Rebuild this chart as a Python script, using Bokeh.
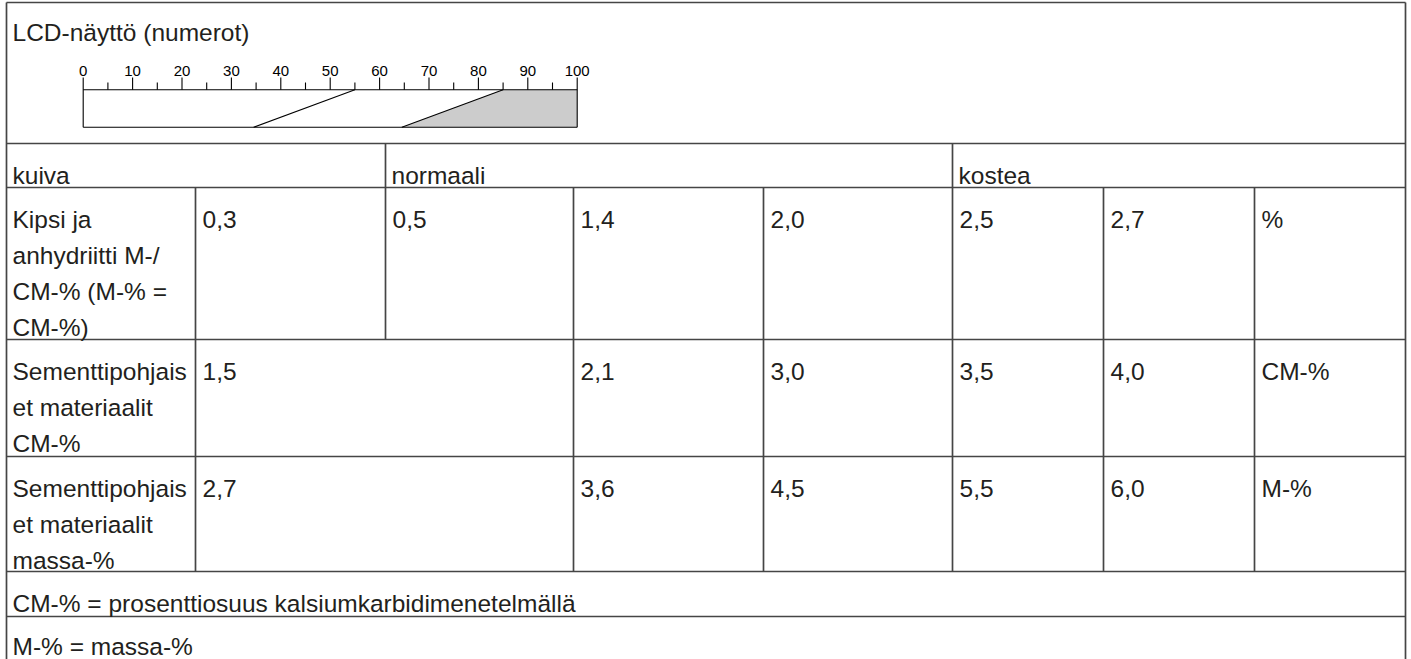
from bokeh.plotting import figure
from bokeh.models import Range1d
from bokeh.core.properties import value
from bokeh.embed import file_html
from bokeh.resources import INLINE

# ---------------- data ----------------
lcd_title = "LCD-näyttö (numerot)"
lcd_major_ticks = [0, 10, 20, 30, 40, 50, 60, 70, 80, 90, 100]
lcd_minor_ticks = [5, 15, 25, 35, 45, 55, 65, 75, 85, 95]
lcd_tick_labels = ["0", "10", "20", "30", "40", "50", "60", "70", "80", "90", "100"]
dry_limit_top = 55
dry_limit_bottom = 34.5
wet_limit_top = 85
wet_limit_bottom = 64.5

zones = ["kuiva", "normaali", "kostea"]
zone_first_col = [0, 2, 5]

material_labels = [
    ["Kipsi ja", "anhydriitti M-/", "CM-% (M-% =", "CM-%)"],
    ["Sementtipohjais", "et materiaalit", "CM-%"],
    ["Sementtipohjais", "et materiaalit", "massa-%"],
]
gypsum_values = ["0,3", "0,5", "1,4", "2,0", "2,5", "2,7"]
gypsum_cols = [1, 2, 3, 4, 5, 6]
cement_cm_values = ["1,5", "2,1", "3,0", "3,5", "4,0"]
cement_m_values = ["2,7", "3,6", "4,5", "5,5", "6,0"]
cement_cols = [1, 3, 4, 5, 6]
units = ["%", "CM-%", "M-%"]
footnotes = ["CM-% = prosenttiosuus kalsiumkarbidimenetelmällä", "M-% = massa-%"]

# ---------------- layout (pixel units of the page) ----------------
col_edges = [6, 195, 385, 573, 763, 952, 1103, 1254, 1405]
row_edges = [2, 143, 187, 339, 456, 571, 616, 700]
PAD_X = 7
FIRST_BASELINE = 32
LINE_STEP = 36
FONT = value("Liberation Sans")
FSIZE = "24.5px"
TXT = "#231f20"
GRID = "#454545"

W, H = 1411, 659
p = figure(width=W, height=H, x_range=Range1d(0, W), y_range=Range1d(H, 0),
           output_backend="svg", toolbar_location=None,
           x_axis_type=None, y_axis_type=None,
           min_border=0, min_border_left=0, min_border_right=0,
           min_border_top=0, min_border_bottom=0)
p.grid.visible = False
p.outline_line_color = None
p.background_fill_color = "white"
p.border_fill_color = "white"

# LCD scale range (maps 0..100 onto the drawn scale)
lcd_px0, lcd_px100 = 82.7, 576.7
ppu = (lcd_px100 - lcd_px0) / 100.0
p.extra_x_ranges = {"lcd": Range1d((0 - lcd_px0) / ppu, (W - lcd_px0) / ppu)}

# ---------------- grid lines ----------------
hx0, hx1, hy = [], [], []
for y in row_edges[:-1]:
    hx0.append(col_edges[0]); hx1.append(col_edges[-1]); hy.append(y)
p.segment(x0=hx0, y0=hy, x1=hx1, y1=hy, line_color=GRID, line_width=1.7)

vx, vy0, vy1 = [], [], []
for x in (col_edges[0], col_edges[-1]):
    vx.append(x); vy0.append(row_edges[0]); vy1.append(row_edges[-1])
for c in zone_first_col[1:]:
    vx.append(col_edges[c]); vy0.append(row_edges[1]); vy1.append(row_edges[2])
for c in range(1, len(col_edges) - 1):
    vx.append(col_edges[c]); vy0.append(row_edges[2]); vy1.append(row_edges[3])
for r in (3, 4):
    for c in cement_cols + [len(col_edges) - 2]:
        vx.append(col_edges[c]); vy0.append(row_edges[r]); vy1.append(row_edges[r + 1])
p.segment(x0=vx, y0=vy0, x1=vx, y1=vy1, line_color=GRID, line_width=1.7)

# ---------------- texts ----------------
tx, ty, tt = [], [], []
tx.append(col_edges[0] + PAD_X - 1); ty.append(row_edges[0] + 30); tt.append(lcd_title)
for z, c in zip(zones, zone_first_col):
    tx.append(col_edges[c] + PAD_X - 1); ty.append(row_edges[1] + FIRST_BASELINE); tt.append(z)

rows_values = [(gypsum_values, gypsum_cols), (cement_cm_values, cement_cols), (cement_m_values, cement_cols)]
for i, (labels, (vals, cols), unit) in enumerate(zip(material_labels, rows_values, units)):
    top = row_edges[2 + i]
    for k, line in enumerate(labels):
        tx.append(col_edges[0] + PAD_X - 1); ty.append(top + FIRST_BASELINE + k * LINE_STEP); tt.append(line)
    for v, c in zip(vals, cols):
        tx.append(col_edges[c] + PAD_X); ty.append(top + FIRST_BASELINE); tt.append(v)
    tx.append(col_edges[7] + PAD_X); ty.append(top + FIRST_BASELINE); tt.append(unit)

for j, f in enumerate(footnotes):
    tx.append(col_edges[0] + PAD_X - 1); ty.append(row_edges[5 + j] + FIRST_BASELINE - 2 * j); tt.append(f)

p.text(x=tx, y=ty, text=tt, text_font=FONT, text_font_size=FSIZE, text_color=TXT,
       text_align="left", text_baseline="alphabetic")

# ---------------- LCD scale graphic ----------------
y_tick_major, y_tick_minor, y_top, y_bot, y_lab = 77, 82, 89.3, 126.7, 70
p.patch(x=[wet_limit_top, 100, 100, wet_limit_bottom], y=[y_top, y_top, y_bot, y_bot],
        x_range_name="lcd", fill_color="#cccccc", line_color=None)
p.segment(x0=[0, 0, 0, 100, dry_limit_top, wet_limit_top],
          y0=[y_top, y_bot, y_tick_major, y_tick_major, y_top, y_top],
          x1=[100, 100, 0, 100, dry_limit_bottom, wet_limit_bottom],
          y1=[y_top, y_bot, y_bot, y_bot, y_bot, y_bot],
          x_range_name="lcd", line_color="black", line_width=1.1)
p.segment(x0=lcd_major_ticks[1:-1], x1=lcd_major_ticks[1:-1],
          y0=[y_tick_major] * 9, y1=[y_top] * 9,
          x_range_name="lcd", line_color="black", line_width=1.1)
p.segment(x0=lcd_minor_ticks, x1=lcd_minor_ticks,
          y0=[y_tick_minor] * len(lcd_minor_ticks), y1=[y_top] * len(lcd_minor_ticks),
          x_range_name="lcd", line_color="black", line_width=1.1)
p.text(x=lcd_major_ticks, y=[y_lab] * len(lcd_major_ticks), text=lcd_tick_labels,
       x_range_name="lcd", text_font=value("Liberation Sans"), text_font_size="15px",
       text_color="black", text_align="center", text_baseline="alphabetic")

open("out.html", "w").write(file_html(p, INLINE))
